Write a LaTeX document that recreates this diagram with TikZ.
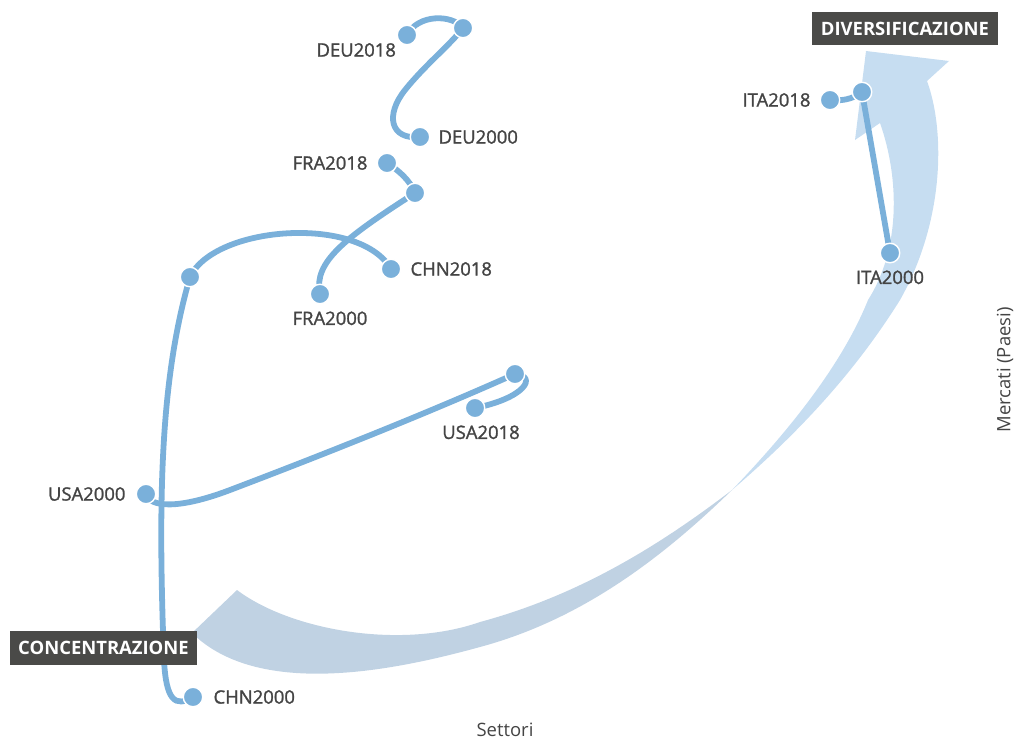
\documentclass[tikz,border=0pt]{standalone}
\usepackage{fontspec}
\setmainfont{Open Sans}
\newfontfamily\tagfont[FakeBold=1.4]{Open Sans}
\usepackage{tikz}
\usetikzlibrary{
    positioning,
    backgrounds
}
\definecolor{ink}{RGB}{68,68,68}
\definecolor{dotblue}{RGB}{122,176,218}
\definecolor{trailblue}{RGB}{122,176,218}
\definecolor{ribbonlow}{RGB}{192,210,227}
\definecolor{ribbonhigh}{RGB}{198,221,241}
\definecolor{boxgrey}{RGB}{74,74,72}
\tikzset{
    line cap=round,
    line join=round,
    dot/.style={
        circle,
        fill=dotblue,
        draw=white,
        line width=0.8pt,
        minimum size=0.39cm,
        inner sep=0pt
    },
    trail/.style={
        draw=trailblue,
        line width=3.3pt
    },
    tag/.style={
        font=\tagfont\fontsize{10.5}{12}\selectfont,
        text=ink,
        inner sep=1pt
    },
    phasebox/.style={
        rectangle,
        fill=boxgrey,
        text=white,
        font=\bfseries\fontsize{10.5}{12}\selectfont,
        minimum height=0.67cm,
        inner sep=0pt
    },
    axislabel/.style={
        font=\fontsize{10.5}{12}\selectfont,
        text=ink
    }
}

\begin{document}
\begin{tikzpicture}[x=0.02cm, y=-0.02cm]
\useasboundingbox (0,0) rectangle (1016,740);

% country dots
\node[dot] (deu00) at (420,137) {};
\node[dot] (deumid) at (463,28) {};
\node[dot] (deu18) at (407,35) {};
\node[dot] (fra00) at (320,294) {};
\node[dot] (framid) at (415,193) {};
\node[dot] (fra18) at (387,163) {};
\node[dot] (chn00) at (193,697) {};
\node[dot] (chnmid) at (190,277) {};
\node[dot] (chn18) at (391,269) {};
\node[dot] (usa00) at (146,494) {};
\node[dot] (usamid) at (515,374) {};
\node[dot] (usa18) at (475,408) {};
\node[dot] (ita00) at (890,253) {};
\node[dot] (itamid) at (862,92) {};
\node[dot] (ita18) at (830,100) {};

% labels
\node[tag, anchor=east] (deu18lab) at (398,50) {DEU2018};
\node[tag, right=0.12cm of deu00] (deu00lab) {DEU2000};
\node[tag, left=0.14cm of fra18] (fra18lab) {FRA2018};
\node[tag, below=0.1cm of fra00, xshift=0.2cm] (fra00lab) {FRA2000};
\node[tag, right=0.14cm of chn18] (chn18lab) {CHN2018};
\node[tag, below=0.1cm of usa18, xshift=0.12cm] (usa18lab) {USA2018};
\node[tag, left=0.16cm of usa00] (usa00lab) {USA2000};
\node[tag, right=0.16cm of chn00] (chn00lab) {CHN2000};
\node[tag, left=0.14cm of ita18] (ita18lab) {ITA2018};
\node[tag, below=0.1cm of ita00] (ita00lab) {ITA2000};

\node[phasebox, minimum width=3.72cm] (diver) at (905,28.5) {DIVERSIFICAZIONE};
\node[phasebox, minimum width=3.74cm] (conc) at (103.5,648) {CONCENTRAZIONE};

\node[axislabel] (xaxis) at (505,730) {Settori};
\node[axislabel, rotate=90] (yaxis) at (1005,370) {Mercati (Paesi)};

\begin{scope}[on background layer]
% twisted ribbon arrow
\fill[ribbonlow] (237,590) .. controls (290,630) and (400,650) .. (480,622)
    .. controls (580,595) and (660,545) .. (732,490)
    .. controls (660,560) and (580,620) .. (480,647)
    .. controls (400,669) and (260,700) .. (192,633) -- cycle;
\fill[ribbonhigh] (732,490) .. controls (780,440) and (840,370) .. (868,300)
    .. controls (900,250) and (900,180) .. (880,123)
    -- (855,140) -- (866,51) -- (949,61) -- (927,81)
    .. controls (945,130) and (945,220) .. (900,300)
    .. controls (850,380) and (790,440) .. (732,490) -- cycle;

% trajectories
\draw[trail] (deu00.center) .. controls (390,140) and (385,115) .. (405,90)
    .. controls (425,65) and (450,45) .. (deumid.center);
\draw[trail] (deumid.center) .. controls (452,14) and (418,14) .. (deu18.center);
\draw[trail] (fra00.center) .. controls (313,262) and (345,238) .. (framid.center);
\draw[trail] (framid.center) .. controls (410,180) and (398,170) .. (fra18.center);
\draw[trail] (chn00.center) .. controls (175,708) and (166,700) .. (164,660)
    .. controls (158,500) and (160,380) .. (chnmid.center);
\draw[trail] (chnmid.center) .. controls (215,225) and (360,215) .. (chn18.center);
\draw[trail] (usa00.center) .. controls (150,508) and (180,509) .. (230,490)
    .. controls (330,452) and (430,412) .. (usamid.center);
\draw[trail] (usamid.center) .. controls (538,376) and (525,398) .. (usa18.center);
\draw[trail] (ita00.center) -- (itamid.center);
\draw[trail] (itamid.center) .. controls (852,100) and (840,101) .. (ita18.center);
\end{scope}

\end{tikzpicture}
\end{document}
